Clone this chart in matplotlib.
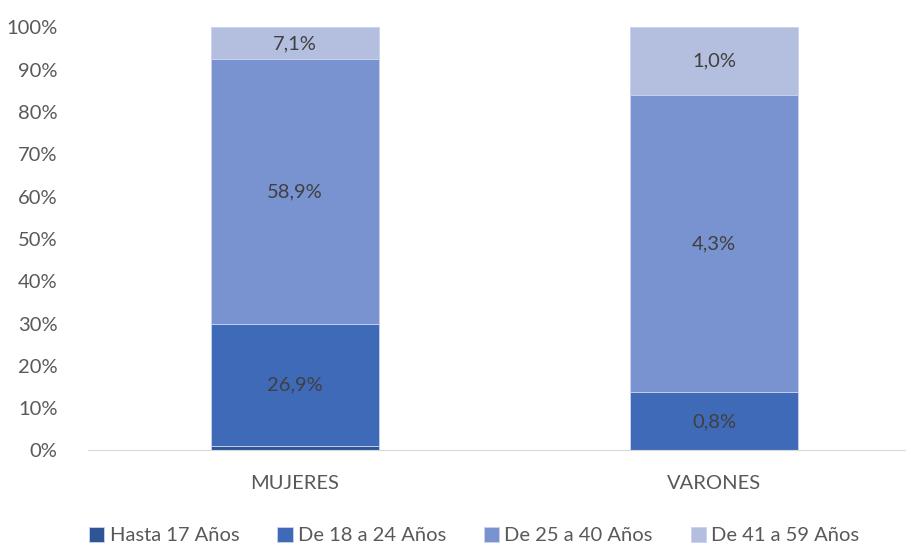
import numpy as np
import matplotlib.pyplot as plt

categories = ["MUJERES", "VARONES"]
series_names = ["Hasta 17 Años", "De 18 a 24 Años", "De 25 a 40 Años", "De 41 a 59 Años"]
# share of each bar (%)
hasta17 = [1.0, 0.0]
de18a24 = [28.8, 13.7]
de25a40 = [62.6, 70.3]
de41a59 = [7.6, 16.0]
# labels printed on the segments
labels_hasta17 = ["", ""]
labels_18a24 = ["26,9%", "0,8%"]
labels_25a40 = ["58,9%", "4,3%"]
labels_41a59 = ["7,1%", "1,0%"]

colors = ["#2F5597", "#3E6AB7", "#7992D0", "#B4BFDF"]
plt.rcParams['font.family'] = ['Lato', 'DejaVu Sans']

fig = plt.figure(figsize=(9.12, 5.46), dpi=100)
ax = fig.add_axes([0.0965, 0.175, 0.896, 0.775])

x = np.arange(len(categories))
bottom = np.zeros(len(categories))
for vals, labs, name, col in zip([hasta17, de18a24, de25a40, de41a59],
                                 [labels_hasta17, labels_18a24, labels_25a40, labels_41a59],
                                 series_names, colors):
    vals = np.array(vals)
    ax.bar(x, vals, 0.4, bottom=bottom, color=col, label=name,
           edgecolor="#C9D3EE", linewidth=0.6)
    for xi, b, v, t in zip(x, bottom, vals, labs):
        if t:
            ax.text(xi, b + v / 2, t, ha="center", va="center", fontsize=14.5, color="#404040")
    bottom = bottom + vals

ax.set_ylim(0, 100)
ax.set_xlim(-0.494, 1.456)
ax.set_yticks(np.arange(0, 101, 10))
ax.set_yticklabels([f"{v}%" for v in range(0, 101, 10)])
ax.set_xticks(x)
ax.set_xticklabels(categories)
ax.tick_params(axis="both", length=0, labelsize=14.5, labelcolor="#595959")
ax.tick_params(axis="x", pad=18)
ax.tick_params(axis="y", pad=22)
for s in ["top", "right", "left"]:
    ax.spines[s].set_visible(False)
ax.spines["bottom"].set_color("#D9D9D9")

leg = fig.legend(loc="lower center", bbox_to_anchor=(0.52, -0.03), ncol=4, frameon=False,
                 fontsize=14.5, handlelength=0.75, handleheight=0.75, handletextpad=0.25,
                 columnspacing=1.9)
for t in leg.get_texts():
    t.set_color("#595959")

fig.savefig("out.png", dpi=100)
